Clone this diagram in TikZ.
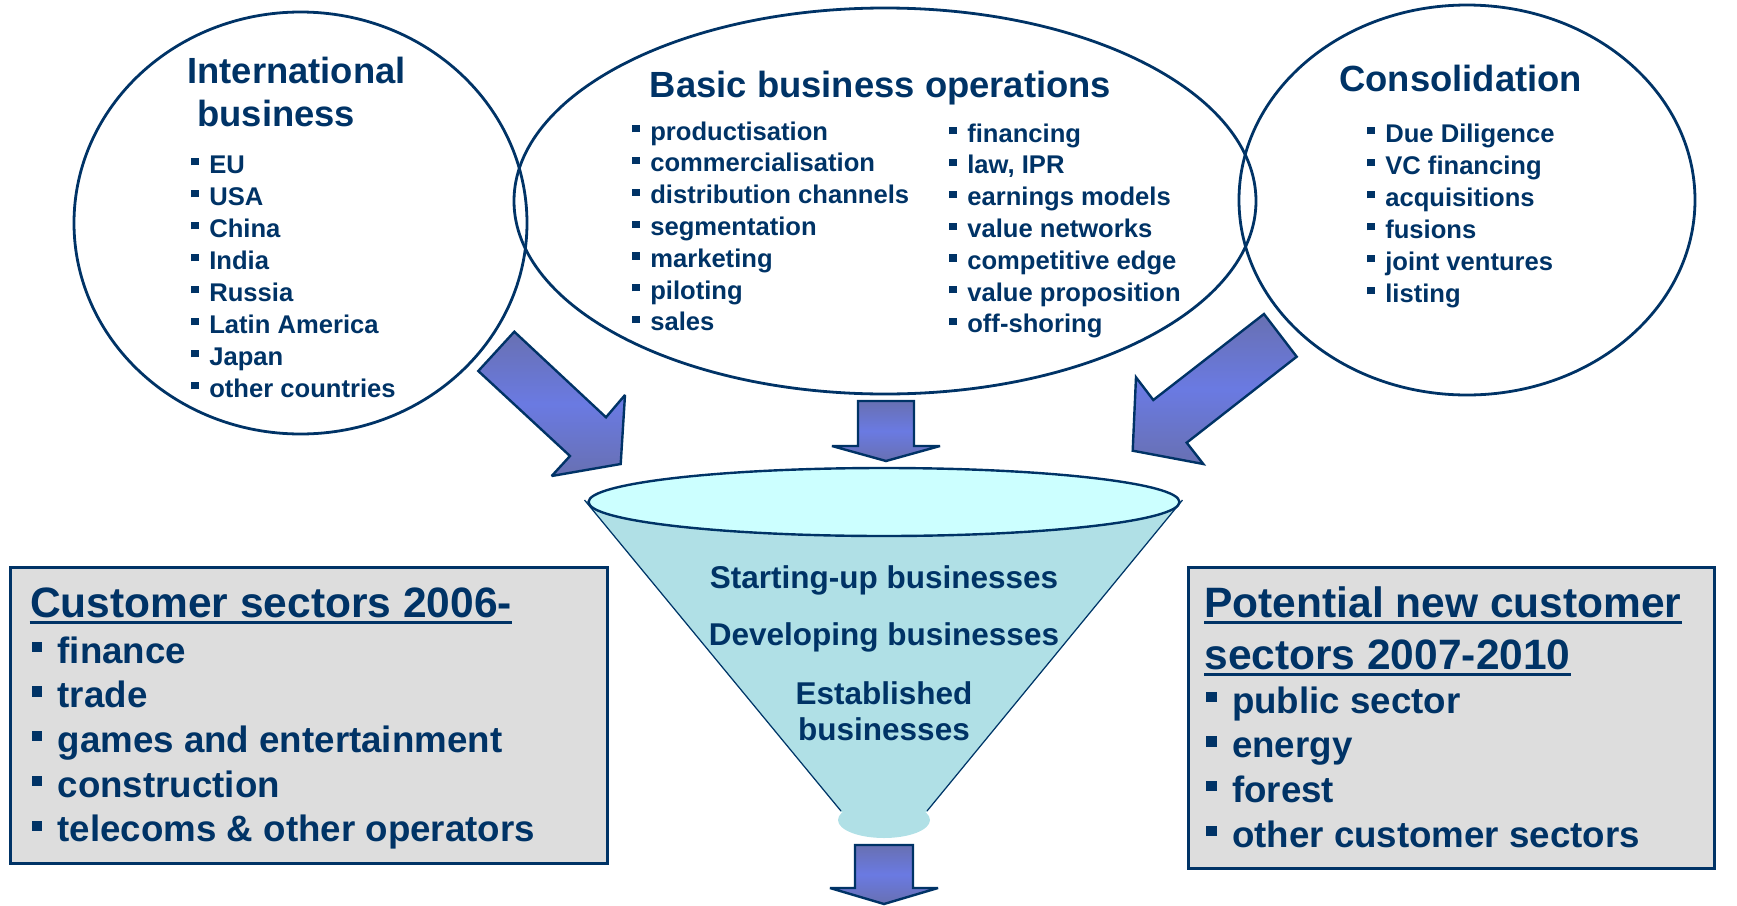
\documentclass[tikz,border=0pt]{standalone}
\usepackage{fontspec}
\setmainfont{Liberation Sans}
\usetikzlibrary{shapes.geometric}
\definecolor{navy}{RGB}{0,51,102}
\definecolor{boxgray}{RGB}{221,221,221}
\definecolor{conefill}{RGB}{176,224,230}
\definecolor{rimfill}{RGB}{204,255,255}
\definecolor{arredge}{RGB}{104,112,178}
\definecolor{arrmid}{RGB}{106,122,226}
\newcommand\bul{\rule[0.3em]{0.28em}{0.28em}\hspace{0.42em}}
\begin{document}
\begin{tikzpicture}[x=0.5pt,y=-0.5pt,
  oval/.style={ellipse, draw=navy, line width=1.4pt, inner sep=0pt},
  sbox/.style={rectangle, draw=navy, line width=1.3pt, fill=boxgray, anchor=north west, inner sep=0pt},
  lbl/.style={anchor=base west, inner sep=0pt, text=navy},
  ttl/.style={lbl, font=\fontsize{18.2}{22}\selectfont\bfseries},
  itm/.style={lbl, font=\fontsize{12.8}{15}\selectfont\bfseries},
  btl/.style={lbl, font=\fontsize{21.25}{25}\selectfont\bfseries},
  bitm/.style={lbl, font=\fontsize{18.35}{22}\selectfont\bfseries},
  ftxt/.style={anchor=base, inner sep=0pt, text=navy, font=\fontsize{15.75}{19}\selectfont\bfseries},
  barrow/.style={draw=navy, line width=1.2pt, line join=miter, miter limit=3, top color=arredge, bottom color=arredge, middle color=arrmid},
  uline/.style={draw=navy, line width=1.3pt}
]
\useasboundingbox (0,0) rectangle (1737,906);

% ovals
\node[oval, minimum width=226.5pt, minimum height=211pt] (ib) at (300.5,223) {};
\node[oval, minimum width=371pt, minimum height=193pt] (bbo) at (885,201) {};
\node[oval, minimum width=228pt, minimum height=195pt] (cons) at (1467,200) {};

% block arrows
\draw[barrow] (514.3,331.7) -- (606,417.3) -- (625,395) -- (620.7,464) -- (551.7,476) -- (570,456) -- (478.3,371) -- cycle;
\draw[barrow] (1264,314) -- (1296.7,356.7) -- (1186.7,442.7) -- (1203.3,464) -- (1132.7,450.7) -- (1136,377.3) -- (1153.3,400) -- cycle;
\draw[barrow] (858,401) -- (914,401) -- (914,446) -- (940,446) -- (886,461) -- (832,446) -- (858,446) -- cycle;
\draw[barrow] (855,845) -- (913,845) -- (913,888) -- (938,888) -- (884,904) -- (830,888) -- (855,888) -- cycle;

% funnel
\fill[conefill] (584.5,501) -- (841,812) -- (927,812) -- (1182.5,501) -- cycle;
\node[ellipse, fill=conefill, inner sep=0pt, minimum width=46pt, minimum height=18pt] (spout) at (884,820) {};
\draw[navy, line width=0.6pt] (584.5,500) -- (841,811);
\draw[navy, line width=0.6pt] (1182.5,500) -- (927,811);
\node[oval, fill=rimfill, line width=1.2pt, minimum width=295.5pt, minimum height=34pt] (rim) at (884,502) {};

% boxes
\node[sbox, minimum width=298.5pt, minimum height=148pt] (cs) at (9,566) {};
\node[sbox, minimum width=263pt, minimum height=150.5pt] (pn) at (1187,566) {};

% International business
\node[ttl] (ibt1) at (187,83) {International};
\node[ttl] (ibt2) at (197,126) {business};
\foreach [count=\i from 0] \t in {EU,USA,China,India,Russia,Latin America,Japan,other countries}
  \node[itm] (ib\i) at (191,{173+32*\i}) {\bul\t};

% Basic business operations
\node[ttl] (bbot) at (649.5,97) {Basic business operations};
\foreach [count=\i from 0] \t in {productisation,commercialisation,distribution channels,segmentation,marketing,piloting,sales}
  \node[itm] (bl\i) at (632,{140+31.8*\i}) {\bul\t};
\foreach [count=\i from 0] \t in {financing,{law, IPR},earnings models,value networks,competitive edge,value proposition,off-shoring}
  \node[itm] (br\i) at (949,{142+31.8*\i}) {\bul\t};

% Consolidation
\node[ttl] (const) at (1339,91) {Consolidation};
\foreach [count=\i from 0] \t in {Due Diligence,VC financing,acquisitions,fusions,joint ventures,listing}
  \node[itm] (co\i) at (1367,{142+32*\i}) {\bul\t};

% funnel texts
\node[ftxt] (f1) at (884,588) {Starting-up businesses};
\node[ftxt] (f2) at (884,645) {Developing businesses};
\node[ftxt] (f3) at (884,704) {Established};
\node[ftxt] (f4) at (884,740) {businesses};

% left box
\node[btl] (cst) at (29.7,617) {Customer sectors 2006-};
\draw[uline] ([yshift=-2.6pt]cst.base west) -- ([yshift=-2.6pt]cst.base east);
\foreach [count=\i from 0] \t in {finance,trade,games and entertainment,construction,telecoms \& other operators}
  \node[bitm] (cs\i) at (31.6,{663+44.7*\i}) {\bul\t};

% right box
\node[btl] (pnt1) at (1204,617) {Potential new customer};
\node[btl] (pnt2) at (1204,669) {sectors 2007-2010};
\draw[uline] ([yshift=-2.6pt]pnt1.base west) -- ([yshift=-2.6pt]pnt1.base east);
\draw[uline] ([yshift=-2.6pt]pnt2.base west) -- ([yshift=-2.6pt]pnt2.base east);
\foreach [count=\i from 0] \t in {public sector,energy,forest,other customer sectors}
  \node[bitm] (pn\i) at (1206,{713+44.7*\i}) {\bul\t};
\end{tikzpicture}
\end{document}
